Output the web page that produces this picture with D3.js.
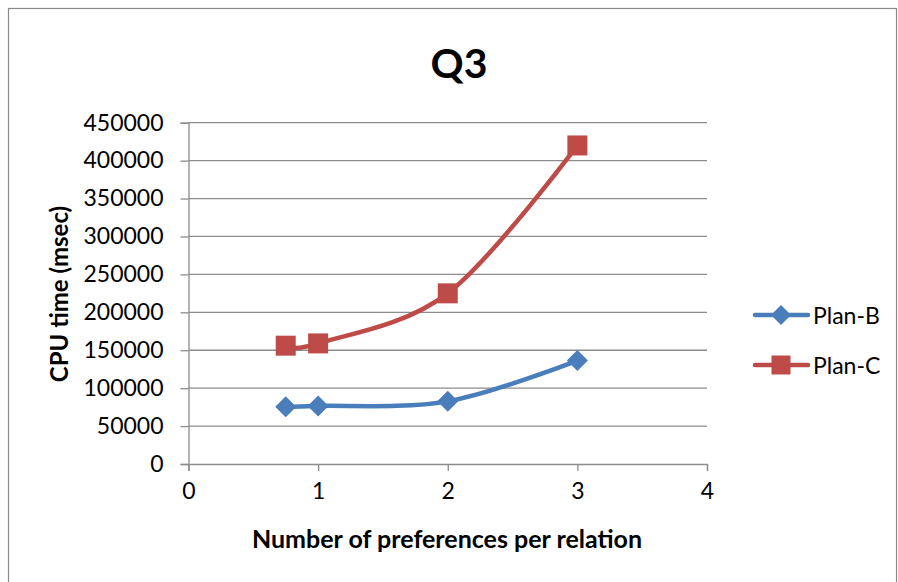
<!DOCTYPE html>
<html>
<head>
<meta charset="utf-8">
<script src="https://cdn.jsdelivr.net/npm/d3@7"></script>
<style>
  html, body { margin: 0; padding: 0; background: #fff; }
  svg { display: block; }
</style>
</head>
<body>
<svg id="chart" width="898" height="582"></svg>
<script>
// Data
const prefsPerRelation = [0.75, 1, 2, 3];
const planB = [75600, 76500, 82600, 136300];
const planC = [156000, 159000, 225000, 420000];
const seriesNames = ["Plan-B", "Plan-C"];
const xTicks = [0, 1, 2, 3, 4];
const yTicks = [0, 50000, 100000, 150000, 200000, 250000, 300000, 350000, 400000, 450000];

const font = "Lato, 'Open Sans', sans-serif";
const svg = d3.select("#chart");

// Chart frame
svg.append("rect")
  .attr("x", 8.5).attr("y", 8.5).attr("width", 888).attr("height", 580)
  .attr("fill", "#fff").attr("stroke", "#8a8a8a").attr("stroke-width", 1.2);

const plot = { left: 188.5, right: 707, top: 122.7, bottom: 464 };
const x = d3.scaleLinear().domain([0, 4]).range([plot.left, plot.right]);
const y = d3.scaleLinear().domain([0, 450000]).range([plot.bottom, plot.top]);

// Horizontal gridlines
svg.append("g").selectAll("line").data(yTicks.slice(1)).join("line")
  .attr("x1", plot.left).attr("x2", plot.right)
  .attr("y1", d => y(d)).attr("y2", d => y(d))
  .attr("stroke", "#8c8c8c").attr("stroke-width", 1.3);

// Y axis
const yAxis = svg.append("g").attr("transform", `translate(${plot.left},0)`)
  .call(d3.axisLeft(y).tickValues(yTicks).tickSize(8).tickPadding(17).tickFormat(d3.format("d")));
yAxis.select(".domain").attr("stroke", "#8c8c8c").attr("stroke-width", 1.3);
yAxis.selectAll(".tick line").attr("stroke", "#8c8c8c").attr("stroke-width", 1.3);
yAxis.selectAll(".tick text").attr("font-family", font).attr("font-size", 23).attr("fill", "#000");

// X axis
const xAxis = svg.append("g").attr("transform", `translate(0,${plot.bottom})`)
  .call(d3.axisBottom(x).tickValues(xTicks).tickSize(7).tickPadding(12).tickFormat(d3.format("d")));
xAxis.select(".domain").attr("stroke", "#8c8c8c").attr("stroke-width", 1.3);
xAxis.selectAll(".tick line").attr("stroke", "#8c8c8c").attr("stroke-width", 1.3);
xAxis.selectAll(".tick text").attr("font-family", font).attr("font-size", 23).attr("fill", "#000");

// Titles
svg.append("text").attr("x", 459).attr("y", 78).attr("text-anchor", "middle")
  .attr("font-family", font).attr("font-weight", "bold").attr("font-size", 41).text("Q3");
svg.append("text").attr("x", 447).attr("y", 548).attr("text-anchor", "middle")
  .attr("font-family", font).attr("font-weight", "bold").attr("font-size", 25)
  .text("Number of preferences per relation");
svg.append("text").attr("transform", "translate(68,294) rotate(-90)").attr("text-anchor", "middle")
  .attr("font-family", font).attr("font-weight", "bold").attr("font-size", 24)
  .text("CPU time (msec)");

// Series
const colors = ["#4a7ebb", "#be4b48"];
const series = [planB, planC];
const line = d3.line().x(d => x(d[0])).y(d => y(d[1])).curve(d3.curveCatmullRom.alpha(0));
const diamond = s => `M0,${-s}L${s},0L0,${s}L${-s},0Z`;
const square = s => `M${-s},${-s}H${s}V${s}H${-s}Z`;
const markers = [diamond(10.5), square(10)];

series.forEach((vals, i) => {
  const pts = prefsPerRelation.map((p, j) => [p, vals[j]]);
  svg.append("path").attr("d", line(pts)).attr("fill", "none")
    .attr("stroke", colors[i]).attr("stroke-width", 4.5).attr("stroke-linecap", "round");
  svg.append("g").selectAll("path").data(pts).join("path")
    .attr("transform", d => `translate(${x(d[0])},${y(d[1])})`)
    .attr("d", markers[i]).attr("fill", colors[i]);
});

// Legend
const legend = svg.append("g");
seriesNames.forEach((name, i) => {
  const ly = 315 + i * 50;
  legend.append("line").attr("x1", 755).attr("x2", 808).attr("y1", ly).attr("y2", ly)
    .attr("stroke", colors[i]).attr("stroke-width", 4.5).attr("stroke-linecap", "round");
  legend.append("path").attr("transform", `translate(781,${ly})`)
    .attr("d", i === 0 ? diamond(10) : square(9.5)).attr("fill", colors[i]);
  legend.append("text").attr("x", 813).attr("y", ly + 8.5)
    .attr("font-family", font).attr("font-size", 23).attr("fill", "#000").text(name);
});
</script>
</body>
</html>
